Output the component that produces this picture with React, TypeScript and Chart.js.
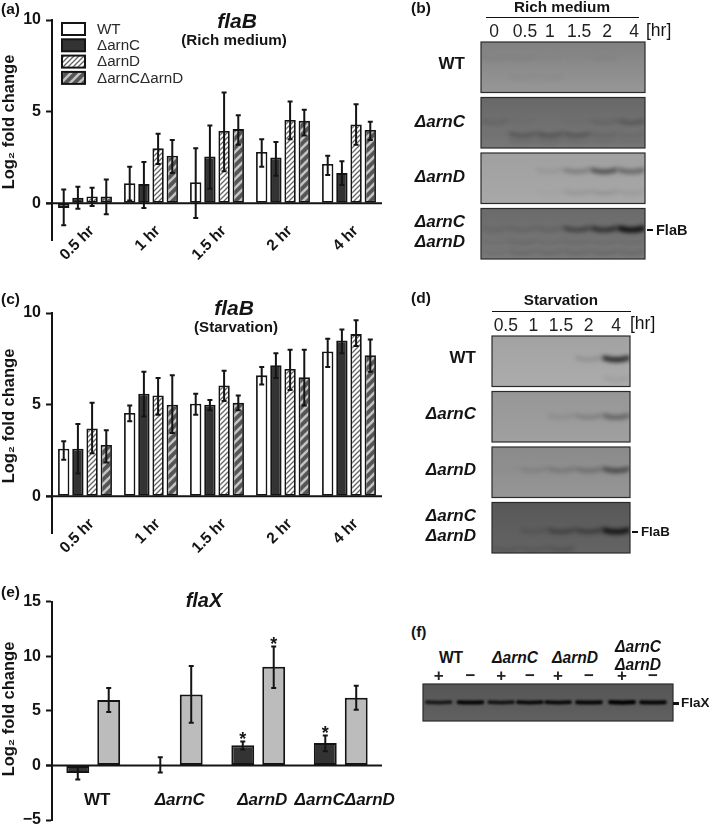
import React, { useEffect, useRef } from "react";
import { Chart, registerables } from "chart.js";

Chart.register(...registerables);

const FONT = "'Liberation Sans', Arial, sans-serif";
const hours = ["0.5 hr", "1 hr", "1.5 hr", "2 hr", "4 hr"];
const strainNames = ["WT", "ΔarnC", "ΔarnD", "ΔarnCΔarnD"];

// (a) flaB, rich medium
const richWT = [-0.25, 1.1, 1.15, 2.8, 2.15];
const richWTHigh = [0.75, 2.0, 3.0, 3.5, 2.6];
const richWTLow = [-1.2, 0.15, -0.8, 2.0, 1.55];
const richC = [0.3, 1.05, 2.55, 2.5, 1.65];
const richCHigh = [0.9, 2.25, 4.25, 3.35, 2.3];
const richCLow = [-0.3, -0.25, 0.8, 1.5, 1.0];
const richD = [0.37, 3.0, 3.95, 4.55, 4.3];
const richDHigh = [0.85, 3.8, 6.05, 5.55, 5.4];
const richDLow = [-0.15, 2.15, 1.75, 3.5, 3.2];
const richCD = [0.37, 2.6, 4.05, 4.5, 4.0];
const richCDHigh = [1.3, 3.45, 4.8, 5.1, 4.45];
const richCDLow = [-0.6, 1.65, 3.2, 3.7, 3.45];

// (c) flaB, starvation
const starvWT = [2.6, 4.55, 5.05, 6.6, 7.9];
const starvWTHigh = [3.0, 4.95, 5.6, 7.05, 8.6];
const starvWTLow = [2.0, 4.1, 4.45, 6.1, 7.05];
const starvC = [2.6, 5.6, 5.0, 7.15, 8.5];
const starvCHigh = [3.95, 6.8, 5.25, 7.8, 9.1];
const starvCLow = [1.25, 4.35, 4.7, 6.45, 7.8];
const starvD = [3.7, 5.5, 6.05, 6.95, 8.85];
const starvDHigh = [5.1, 6.45, 6.85, 8.0, 9.6];
const starvDLow = [2.35, 4.45, 5.2, 5.8, 8.2];
const starvCD = [2.8, 5.0, 5.1, 6.5, 7.7];
const starvCDHigh = [3.6, 6.6, 5.5, 8.0, 8.55];
const starvCDLow = [1.85, 3.45, 4.7, 4.95, 6.8];

// (e) flaX
const flaXStrains = ["WT", "ΔarnC", "ΔarnD", "ΔarnCΔarnD"];
const flaXDark = [-0.7, 0.05, 1.85, 2.05];
const flaXDarkHigh = [-0.1, 0.75, 2.2, 2.75];
const flaXDarkLow = [-1.3, -0.65, 1.45, 1.3];
const flaXDarkSig = [false, false, true, true];
const flaXLight = [6.0, 6.5, 9.05, 6.2];
const flaXLightHigh = [7.1, 9.1, 10.9, 7.3];
const flaXLightLow = [4.9, 3.9, 7.1, 5.1];
const flaXLightSig = [false, false, true, false];

// Blots: [row, position inside row, band strength per lane]
type Band = [number, number, number[]];
const richLanes = ["0", "0.5", "1", "1.5", "2", "4"];
const richLaneLabelPositions = [-0.02, 1.11, 2.02, 3.09, 4.11, 5.1];
const richRowLabels = ["WT", "ΔarnC", "ΔarnD", ["ΔarnC", "ΔarnD"]];
const richRowColors = [["#808080", "#979797"], ["#686868", "#787878"], ["#a0a0a0", "#a8a8a8"], ["#6a6a6a", "#7a7a7a"]];
const richBands: Band[] = [
  [0, 0.3, [0.05, 0.05, 0.02, 0.01, 0.03, 0]],
  [0, 0.65, [0, 0.04, 0.04, 0, 0, 0]],
  [1, 0.45, [0.12, 0.03, 0, 0.03, 0.12, 0.24]],
  [1, 0.68, [0.03, 0.27, 0.3, 0.28, 0.14, 0.1]],
  [1, 0.8, [0, 0.1, 0.12, 0.1, 0.08, 0.08]],
  [2, 0.33, [0, 0, 0.08, 0.26, 0.55, 0.42]],
  [2, 0.72, [0, 0, 0.02, 0.1, 0.12, 0.08]],
  [3, 0.38, [0.1, 0.12, 0.14, 0.45, 0.6, 0.92]],
  [3, 0.62, [0.05, 0.12, 0.08, 0.1, 0.08, 0.08]],
  [3, 0.8, [0.08, 0.14, 0.14, 0.14, 0.14, 0.14]],
];

const starvLanes = ["0.5", "1", "1.5", "2", "4"];
const starvRowLabels = ["WT", "ΔarnC", "ΔarnD", ["ΔarnC", "ΔarnD"]];
const starvRowColors = [["#a2a2a2", "#acacac"], ["#969696", "#a0a0a0"], ["#8a8a8a", "#969696"], ["#585858", "#646464"]];
const starvBands: Band[] = [
  [0, 0.42, [0, 0, 0, 0.14, 0.8]],
  [0, 0.78, [0, 0, 0, 0, 0.08]],
  [1, 0.46, [0, 0, 0.1, 0.2, 0.4]],
  [2, 0.42, [0.02, 0.12, 0.2, 0.26, 0.55]],
  [3, 0.52, [0, 0.13, 0.34, 0.38, 0.85]],
  [3, 0.85, [0.14, 0.14, 0.18, 0, 0]],
];

const flaXLanes = ["+", "−", "+", "−", "+", "−", "+", "−"];
const flaXLanePositions = [0, 1.02, 2, 2.92, 3.82, 4.81, 5.87, 6.86];
const flaXBlotRowColors = [["#565656", "#606060"]];
const flaXBandStrength = [0.75, 0.95, 0.8, 0.92, 0.92, 0.95, 1, 0.95];

const INK = "#141414";

function stripes(bg: string, fg: string, lw: number, size: number) {
  const c = document.createElement("canvas");
  c.width = size;
  c.height = size;
  const g = c.getContext("2d")!;
  g.fillStyle = bg;
  g.fillRect(0, 0, size, size);
  g.strokeStyle = fg;
  g.lineWidth = lw;
  for (let k = -1; k <= 1; k++) {
    g.beginPath();
    g.moveTo(k * size - 1, size + 1);
    g.lineTo(k * size + size + 1, -1);
    g.stroke();
  }
  return g.createPattern(c, "repeat")!;
}

const barExtras = (o: { zeroFrom: number; labelY: number; legend?: boolean }) => ({
  id: "barExtras",
  afterDatasetsDraw(chart: any) {
    const { ctx, scales, chartArea } = chart;
    const y = scales.y;
    ctx.save();
    ctx.strokeStyle = INK;
    ctx.lineWidth = 2;
    ctx.beginPath();
    ctx.moveTo(o.zeroFrom, y.getPixelForValue(0));
    ctx.lineTo(chartArea.right, y.getPixelForValue(0));
    ctx.stroke();
    chart.data.datasets.forEach((ds: any, di: number) => {
      const meta = chart.getDatasetMeta(di);
      meta.data.forEach((bar: any, i: number) => {
        const hi = y.getPixelForValue(ds.errHigh[i]);
        const lo = y.getPixelForValue(ds.errLow[i]);
        const cap = ds.capHalf;
        ctx.lineWidth = 2;
        ctx.strokeStyle = INK;
        ctx.beginPath();
        ctx.moveTo(bar.x, hi);
        ctx.lineTo(bar.x, lo);
        ctx.moveTo(bar.x - cap, hi);
        ctx.lineTo(bar.x + cap, hi);
        ctx.moveTo(bar.x - cap, lo);
        ctx.lineTo(bar.x + cap, lo);
        ctx.stroke();
        if (ds.sig && ds.sig[i]) {
          ctx.fillStyle = INK;
          ctx.font = `bold 18px ${FONT}`;
          ctx.textAlign = "center";
          ctx.textBaseline = "alphabetic";
          ctx.fillText("*", bar.x, hi + 4);
        }
      });
    });
    if (o.legend) {
      chart.data.datasets.forEach((ds: any, di: number) => {
        const cy = 29 + di * 16.3;
        ctx.fillStyle = ds.backgroundColor;
        ctx.fillRect(62, cy - 6, 23, 12);
        ctx.strokeStyle = INK;
        ctx.lineWidth = 2;
        ctx.strokeRect(62, cy - 6, 23, 12);
        ctx.fillStyle = "#2a2a2a";
        ctx.font = `15.2px ${FONT}`;
        ctx.textAlign = "left";
        ctx.textBaseline = "middle";
        ctx.fillText(ds.label, 97, cy + 0.5);
      });
    }
    ctx.fillStyle = INK;
    ctx.font = `bold 16.5px ${FONT}`;
    ctx.textAlign = "center";
    ctx.textBaseline = "middle";
    ctx.translate(9, o.labelY);
    ctx.rotate(-Math.PI / 2);
    ctx.fillText("Log₂ fold change", 0, 0);
    ctx.restore();
  },
});

const noAutoPad = (s: any) => {
  s.paddingTop = 0;
  s.paddingBottom = 0;
  s.paddingLeft = 0;
  s.paddingRight = 0;
};

function barOptions(o: any): any {
  return {
    responsive: false,
    animation: false,
    layout: { padding: { top: o.padTop, right: 18, left: 0, bottom: 0 } },
    plugins: { legend: { display: false }, tooltip: { enabled: false }, title: { display: false } },
    scales: {
      x: {
        type: "category",
        grid: { display: false, drawTicks: false },
        border: { display: false },
        afterFit: (s: any) => { s.height = o.xHeight; noAutoPad(s); },
        ticks: o.xTicks,
      },
      y: {
        min: o.min,
        max: o.max,
        afterBuildTicks: (s: any) => { s.ticks = o.ticks.map((value: number) => ({ value })); },
        afterFit: (s: any) => { s.width = 52; noAutoPad(s); },
        grid: { drawOnChartArea: false, drawTicks: true, tickLength: 6, tickWidth: 2, color: INK },
        border: { display: true, color: INK, width: 2 },
        ticks: {
          color: INK,
          padding: 5,
          font: { family: FONT, size: 16, weight: "bold" },
          callback: (v: number) => (v < 0 ? "−" + Math.abs(v) : String(v)),
        },
      },
    },
  };
}

const rotatedTicks = {
  color: INK,
  autoSkip: false,
  mirror: true,
  minRotation: 45,
  maxRotation: 45,
  padding: 5,
  labelOffset: 20,
  font: { family: FONT, size: 15.5, weight: "bold" },
};

function fourSeriesChart(values: number[][], highs: number[][], lows: number[][], padTop: number, xHeight: number, labelY: number, legend: boolean) {
  const fills = [
    "#ffffff",
    "#333333",
    stripes("#ffffff", "#666666", 1.3, 5),
    stripes("#555555", "#c4c4c4", 2.6, 9),
  ];
  return {
    type: "bar",
    data: {
      labels: hours,
      datasets: strainNames.map((label, k) => ({
        label,
        data: values[k],
        errHigh: highs[k],
        errLow: lows[k],
        capHalf: 2.5,
        backgroundColor: fills[k],
        borderColor: INK,
        borderWidth: 1.8,
        borderSkipped: false,
        categoryPercentage: 0.86,
        barPercentage: 0.8,
      })),
    },
    options: barOptions({ padTop, xHeight, min: -2, max: 10, ticks: [0, 5, 10], xTicks: rotatedTicks }),
    plugins: [barExtras({ zeroFrom: 46, labelY, legend })],
  };
}

const chartA = () =>
  fourSeriesChart(
    [richWT, richC, richD, richCD],
    [richWTHigh, richCHigh, richDHigh, richCDHigh],
    [richWTLow, richCLow, richDLow, richCDLow],
    20, 35, 122, true,
  );

const chartC = () =>
  fourSeriesChart(
    [starvWT, starvC, starvD, starvCD],
    [starvWTHigh, starvCHigh, starvDHigh, starvCDHigh],
    [starvWTLow, starvCLow, starvDLow, starvCDLow],
    23, 42, 126, false,
  );

const chartE = () => ({
  type: "bar",
  data: {
    labels: flaXStrains,
    datasets: [
      { label: "dark", data: flaXDark, errHigh: flaXDarkHigh, errLow: flaXDarkLow, sig: flaXDarkSig, backgroundColor: "#333333" },
      { label: "light", data: flaXLight, errHigh: flaXLightHigh, errLow: flaXLightLow, sig: flaXLightSig, backgroundColor: "#bcbcbc" },
    ].map((d) => ({ ...d, capHalf: 2.5, borderColor: INK, borderWidth: 2, borderSkipped: false, categoryPercentage: 0.75, barPercentage: 0.74 })),
  },
  options: barOptions({
    padTop: 16.7,
    xHeight: 7,
    min: -5,
    max: 15,
    ticks: [-5, 0, 5, 10, 15],
    xTicks: {
      color: INK,
      autoSkip: false,
      mirror: true,
      maxRotation: 0,
      padding: 9,
      labelOffset: 4,
      font: (c: any) => ({ family: FONT, size: 17, weight: "bold", style: c.index === 0 ? "normal" : "italic" }),
    },
  }),
  plugins: [barExtras({ zeroFrom: 46, labelY: 124 })],
});

const blotPainter = (rowColors: string[][], stripFrac: number, bandHalf: number, bandSag: number, bandThick: number, blur: number) => ({
  id: "blotPainter",
  beforeDatasetsDraw(chart: any) {
    const { ctx, chartArea, scales } = chart;
    const { x, y } = scales;
    ctx.save();
    rowColors.forEach((c, r) => {
      const top = y.getPixelForValue(r);
      const bot = y.getPixelForValue(r + stripFrac);
      const g = ctx.createLinearGradient(0, top, 0, bot);
      g.addColorStop(0, c[0]);
      g.addColorStop(1, c[1]);
      ctx.fillStyle = g;
      ctx.fillRect(chartArea.left, top, chartArea.width, bot - top);
    });
    chart.data.datasets.forEach((ds: any) => {
      const r = Math.floor(ds.data[0].y);
      const top = y.getPixelForValue(r);
      const bot = y.getPixelForValue(r + stripFrac);
      ctx.save();
      ctx.beginPath();
      ctx.rect(chartArea.left, top, chartArea.width, bot - top);
      ctx.clip();
      ctx.filter = `blur(${blur}px)`;
      ctx.strokeStyle = "#000";
      ctx.lineCap = "round";
      ds.data.forEach((p: any, i: number) => {
        const s = ds.strength[i];
        if (!s) return;
        const px = x.getPixelForValue(p.x);
        const py = y.getPixelForValue(p.y);
        const half = Math.abs(x.getPixelForValue(p.x + bandHalf) - px);
        ctx.globalAlpha = s;
        ctx.lineWidth = bandThick * (0.75 + 0.45 * s);
        ctx.beginPath();
        ctx.moveTo(px - half, py - bandSag * 0.6);
        ctx.quadraticCurveTo(px, py + bandSag, px + half, py - bandSag * 0.6);
        ctx.stroke();
      });
      ctx.restore();
    });
    ctx.globalAlpha = 1;
    ctx.strokeStyle = "#2b2b2b";
    ctx.lineWidth = 1.2;
    rowColors.forEach((_, r) => {
      const top = y.getPixelForValue(r);
      const bot = y.getPixelForValue(r + stripFrac);
      ctx.strokeRect(chartArea.left, top, chartArea.width, bot - top);
    });
    ctx.restore();
  },
});

function blotChart(o: any) {
  const bandX = (i: number) => (o.positions ? o.positions[i] : i);
  const labelX = (i: number) => (o.labelPositions ? o.labelPositions[i] : bandX(i));
  const datasets = o.bands.map((b: Band, k: number) => ({
    label: "band " + k,
    data: b[2].map((_, i) => ({ x: bandX(i), y: b[0] + b[1] })),
    strength: b[2],
    pointRadius: 0,
    showLine: false,
  }));
  return {
    type: "scatter",
    data: { datasets },
    options: {
      responsive: false,
      animation: false,
      layout: { padding: o.padding },
      plugins: { legend: { display: false }, tooltip: { enabled: false } },
      scales: {
        x: {
          type: "linear",
          position: "top",
          min: -0.5,
          max: o.lanes.length - 0.5,
          grid: { display: false, drawTicks: false },
          border: { display: false },
          afterBuildTicks: (s: any) => { s.ticks = o.lanes.map((_: string, i: number) => ({ value: labelX(i) })); },
          afterFit: (s: any) => { s.height = o.topHeight; noAutoPad(s); },
          ticks: {
            color: "#222",
            padding: o.tickPad,
            autoSkip: false,
            maxRotation: 0,
            font: { family: FONT, size: o.laneSize, weight: o.laneWeight },
            callback: (_: number, i: number) => o.lanes[i],
          },
        },
        y: {
          type: "linear",
          reverse: true,
          display: !!o.rowLabels,
          min: 0,
          max: o.rowMax,
          grid: { display: false, drawTicks: false },
          border: { display: false },
          afterBuildTicks: (s: any) => { s.ticks = (o.rowTicks || []).map((value: number) => ({ value })); },
          afterFit: (s: any) => { s.width = o.leftWidth || 0; noAutoPad(s); },
          ticks: {
            color: INK,
            padding: 16,
            autoSkip: false,
            font: (c: any) => ({ family: FONT, size: 17, weight: "bold", style: c.index === 0 ? "normal" : "italic" }),
            callback: (_: number, i: number) => (o.rowLabels ? o.rowLabels[i] : ""),
          },
        },
      },
    },
    plugins: [blotPainter(o.rowColors, o.stripFrac, o.bandHalf, o.bandSag, o.bandThick, o.blur)],
  };
}

const chartB = () =>
  blotChart({
    lanes: richLanes, labelPositions: richLaneLabelPositions, bands: richBands, rowColors: richRowColors, rowLabels: richRowLabels,
    rowTicks: [0.41, 1.44, 2.43, 3.43], rowMax: 3.91, stripFrac: 0.91,
    padding: { left: 0, right: 64, top: 0, bottom: 3 }, leftWidth: 76, topHeight: 22, tickPad: -1,
    laneSize: 17.5, laneWeight: "normal", bandHalf: 0.42, bandSag: 2.2, bandThick: 4.4, blur: 2,
  });

const chartD = () =>
  blotChart({
    lanes: starvLanes, bands: starvBands, rowColors: starvRowColors, rowLabels: starvRowLabels,
    rowTicks: [0.41, 1.42, 2.42, 3.43], rowMax: 3.91, stripFrac: 0.91,
    padding: { left: 0, right: 79, top: 0, bottom: 3 }, leftWidth: 87, topHeight: 22, tickPad: -1,
    laneSize: 17.5, laneWeight: "normal", bandHalf: 0.42, bandSag: 2.2, bandThick: 4.4, blur: 2,
  });

const chartF = () =>
  blotChart({
    lanes: flaXLanes, positions: flaXLanePositions,
    bands: [[0, 0.5, flaXBandStrength]] as Band[], rowColors: flaXBlotRowColors,
    rowMax: 1, stripFrac: 1,
    padding: { left: 18, right: 36, top: 0, bottom: 3 }, leftWidth: 0, topHeight: 16, tickPad: -3,
    laneSize: 17, laneWeight: "bold", bandHalf: 0.38, bandSag: 0.6, bandThick: 3.4, blur: 0.9,
  });

function Panel({ make, left, top, width, height }: any) {
  const ref = useRef<HTMLCanvasElement>(null);
  useEffect(() => {
    const chart = new Chart(ref.current!, make());
    return () => chart.destroy();
  }, []);
  return <canvas ref={ref} width={width} height={height} style={{ position: "absolute", left, top, width, height }} />;
}

function T({ x, y, size, weight = "bold", italic, align = "center", children }: any) {
  const tx = align === "center" ? "-50%" : align === "right" ? "-100%" : "0";
  return (
    <div
      style={{
        position: "absolute", left: x, top: y, transform: `translate(${tx},-50%)`, whiteSpace: "nowrap",
        fontFamily: FONT, fontSize: size, fontWeight: weight, fontStyle: italic ? "italic" : "normal", lineHeight: 1, color: INK,
      }}
    >
      {children}
    </div>
  );
}

function Rule({ x, y, w, h = 1 }: any) {
  return <div style={{ position: "absolute", left: x, top: y, width: w, height: h, background: "#111" }} />;
}

export default function App() {
  useEffect(() => {
    document.body.style.margin = "0";
  }, []);
  return (
    <div style={{ position: "relative", width: 709, height: 827, background: "#fff", overflow: "hidden" }}>
      <Panel make={chartA} left={0} top={0} width={400} height={275} />
      <Panel make={chartC} left={0} top={290} width={400} height={285} />
      <Panel make={chartE} left={0} top={585} width={400} height={242} />
      <Panel make={chartB} left={405} top={20} width={304} height={242} />
      <Panel make={chartD} left={405} top={314} width={304} height={242} />
      <Panel make={chartF} left={405} top={668} width={304} height={56} />

      <T x={1} y={9} size={15.5} align="left">(a)</T>
      <T x={411} y={8} size={15.5} align="left">(b)</T>
      <T x={1} y={299} size={15.5} align="left">(c)</T>
      <T x={411} y={298} size={15.5} align="left">(d)</T>
      <T x={1} y={592} size={15.5} align="left">(e)</T>
      <T x={411} y={632} size={15.5} align="left">(f)</T>

      <T x={237} y={20} size={21} italic>flaB</T>
      <T x={234} y={40} size={15.2}>(Rich medium)</T>
      <T x={234} y={307} size={21} italic>flaB</T>
      <T x={236} y={327} size={15.1}>(Starvation)</T>
      <T x={204} y={600} size={20} italic>flaX</T>

      <T x={562} y={7} size={15.3}>Rich medium</T>
      <Rule x={486} y={16.5} w={153} />
      <T x={646} y={31} size={17.5} weight="normal" align="left">[hr]</T>
      <Rule x={647} y={228.5} w={6} h={2.5} />
      <T x={656} y={230} size={14.5} align="left">FlaB</T>

      <T x={561} y={300} size={15.2}>Starvation</T>
      <Rule x={492} y={310.5} w={139} />
      <T x={630} y={324} size={17.5} weight="normal" align="left">[hr]</T>
      <Rule x={632} y={530.5} w={6} h={2.5} />
      <T x={641} y={532} size={13.3} align="left">FlaB</T>

      <T x={451} y={658} size={15.6}>WT</T>
      <T x={515} y={658} size={15.6} italic>ΔarnC</T>
      <T x={575} y={658} size={15.6} italic>ΔarnD</T>
      <T x={638} y={647} size={15.6} italic>ΔarnC</T>
      <T x={638} y={665} size={15.6} italic>ΔarnD</T>
      <Rule x={673} y={702} w={6} h={2.5} />
      <T x={681} y={703} size={13.5} align="left">FlaX</T>
    </div>
  );
}
